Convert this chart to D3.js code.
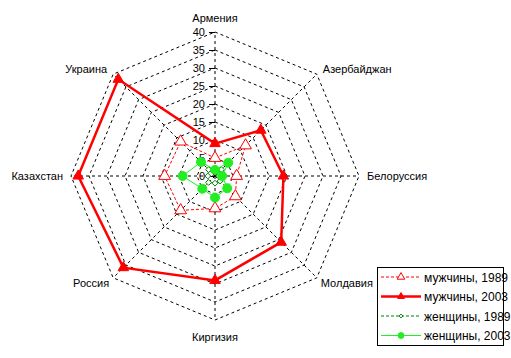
<!DOCTYPE html>
<html><head><meta charset="utf-8">
<script src="https://cdn.jsdelivr.net/npm/d3@7"></script>
<style>body{margin:0;background:#fff}svg{display:block;font-family:"Liberation Sans",Arial,sans-serif}</style>
</head><body><svg id="c" width="511" height="358"></svg>
<script>
const categories = ["Армения","Азербайджан","Белоруссия","Молдавия","Киргизия","Россия","Казахстан","Украина"];
const men1989 = [5, 12, 6, 8, 9, 13.5, 14, 13.5];
const men2003 = [9, 18, 19, 26, 29, 36, 38, 38];
const women1989 = [2, 2.5, 1, 2, 2, 2.5, 2, 2.5];
const women2003 = [1.7, 5.2, 2, 4.8, 6, 5, 9, 5.5];
const tickValues = [0,5,10,15,20,25,30,35,40];
const seriesNames = ["мужчины, 1989","мужчины, 2003","женщины, 1989","женщины, 2003"];

const svg = d3.select("#c");
const cx = 215, cy = 176;
const r = d3.scaleLinear().domain([0,40]).range([0,144]);
const ang = d3.scaleLinear().domain([0, categories.length]).range([0, 2*Math.PI]);
const pt = (i, v) => [cx + r(v)*Math.sin(ang(i)), cy - r(v)*Math.cos(ang(i))];

const g = svg.append("g");
tickValues.slice(1).forEach(t => {
  g.append("path")
    .attr("d", d3.line()(categories.map((c,i)=>pt(i,t))) + "Z")
    .attr("fill","none").attr("stroke","#000").attr("stroke-width",1).attr("stroke-dasharray","3,3");
});
categories.forEach((c,i)=>{
  const [x,y] = pt(i,40);
  g.append("line").attr("x1",cx).attr("y1",cy).attr("x2",x).attr("y2",y)
    .attr("stroke","#000").attr("stroke-dasharray","3,3");
});
tickValues.forEach(t=>{
  const y = cy - r(t);
  g.append("line").attr("x1",cx-6).attr("x2",cx).attr("y1",y+0.5).attr("y2",y+0.5).attr("stroke","#000");
  g.append("text").attr("x",cx-10).attr("y",y+4).attr("text-anchor","end")
    .attr("font-size",11).attr("fill","#000").text(t);
});
const labelPos = [
  {dx:0, dy:-10, anchor:"middle"},
  {dx:6, dy:-1, anchor:"start"},
  {dx:8, dy:4, anchor:"start"},
  {dx:4, dy:9, anchor:"start"},
  {dx:0, dy:21, anchor:"middle"},
  {dx:-4, dy:9, anchor:"end"},
  {dx:-8, dy:4, anchor:"end"},
  {dx:-6, dy:-1, anchor:"end"}
];
categories.forEach((c,i)=>{
  const [x,y] = pt(i,40);
  g.append("text").attr("x",x+labelPos[i].dx).attr("y",y+labelPos[i].dy)
    .attr("text-anchor",labelPos[i].anchor).attr("font-size",11).attr("fill","#000").text(c);
});

const styles = [
  {data:men1989, color:"#ff0000", width:1, dash:"3,2", marker:"triangle", fill:"#fff", size:60},
  {data:men2003, color:"#ff0000", width:2.5, dash:null, marker:"triangle", fill:"#ff0000", size:48},
  {data:women1989, color:"#008000", width:1, dash:"3,2", marker:"diamond", fill:"#fff", size:22},
  {data:women2003, color:"#22ee22", width:1, dash:null, marker:"circle", fill:"#22ee22", size:4.5}
];
function drawMarker(sel, s, x, y, k){
  if (s.marker==="triangle"){
    sel.append("path").attr("d", d3.symbol().type(d3.symbolTriangle).size(s.size*k*k)())
      .attr("transform",`translate(${x},${y})`).attr("fill",s.fill).attr("stroke",s.color).attr("stroke-width",1);
  } else if (s.marker==="diamond"){
    sel.append("path").attr("d", d3.symbol().type(d3.symbolDiamond2).size(s.size*k*k)())
      .attr("transform",`translate(${x},${y})`).attr("fill",s.fill).attr("stroke",s.color).attr("stroke-width",1);
  } else {
    sel.append("circle").attr("cx",x).attr("cy",y).attr("r",s.size*k).attr("fill",s.fill).attr("stroke",s.color);
  }
}
styles.forEach(s=>{
  const pts = s.data.map((v,i)=>pt(i,v));
  g.append("path").attr("d", d3.line()(pts)+"Z").attr("fill","none")
    .attr("stroke",s.color).attr("stroke-width",s.width).attr("stroke-dasharray",s.dash);
  pts.forEach(p=>drawMarker(g,s,p[0],p[1],1));
});

const lg = svg.append("g");
lg.append("rect").attr("x",377.5).attr("y",267.5).attr("width",126).attr("height",78)
  .attr("fill","#fff").attr("stroke","#000").attr("stroke-width",1);
styles.forEach((s,i)=>{
  const y = 277 + i*19.5;
  lg.append("line").attr("x1",381).attr("x2",421).attr("y1",y).attr("y2",y)
    .attr("stroke",s.color).attr("stroke-width",s.width).attr("stroke-dasharray",s.dash);
  drawMarker(lg,s,401,y,0.65);
  lg.append("text").attr("x",424).attr("y",y+4.5).attr("font-size",12).attr("fill","#000").text(seriesNames[i]);
});
</script></body></html>
